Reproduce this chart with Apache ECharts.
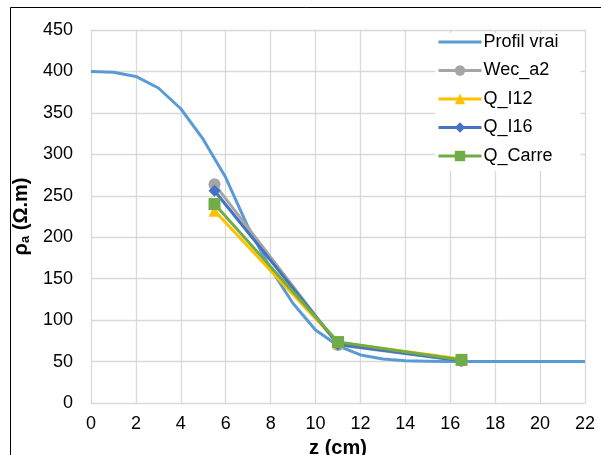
<!DOCTYPE html>
<html><head><meta charset="utf-8">
<script src="https://cdn.jsdelivr.net/npm/echarts@6/dist/echarts.min.js"></script>
<style>html,body{margin:0;padding:0;background:#fff}#c{width:601px;height:455px}</style>
</head><body><div id="c"></div>
<script>
const xTicks = [0,2,4,6,8,10,12,14,16,18,20,22];
const yTicks = [0,50,100,150,200,250,300,350,400,450];
const profilZ = [0,1,2,3,4,5,6,7,8,9,10,11,12,13,14,15,16,17,18,19,20,21,22];
const profilVrai = [400,399,394,380,355,318,272,212,162,120,88,69,58,53,51,50.5,50,50,50,50,50,50,50];
const estZ = [5.5,11,16.5];
const wecA2 = [264,70,51];
const qI12 = [232,73,53];
const qI16 = [256,71,51];
const qCarre = [240,73.5,52];

const chart = echarts.init(document.getElementById('c'));
const font = 'Liberation Sans, Arial, sans-serif';
function pairs(xs, ys){ return xs.map((x,i)=>[x,ys[i]]); }
const mk = (name, color, data, symbol, size) => ({
  name, type:'line', data, symbol, symbolSize:size, showSymbol:true,
  lineStyle:{color, width:3}, itemStyle:{color, borderWidth:0}, z:3, animation:false
});
chart.setOption({
  animation:false,
  backgroundColor:'#fff',
  grid:{left:91, right:16, top:30, bottom:52, containLabel:false, outerBoundsMode:'none'},
  graphic:[{type:'rect', shape:{x:10.5,y:7.5,width:600,height:460}, style:{fill:'none', stroke:'#000', lineWidth:1}, z:-1}],
  legend:{
    orient:'vertical', left:435, top:33, itemWidth:43, itemHeight:13, itemGap:10.5,
    backgroundColor:'#fff', padding:[0,22,6,2],
    lineStyle:{width:3},
    textStyle:{fontFamily:font, fontSize:18, lineHeight:18, color:'#000', padding:[0,0,0,-3]},
    data:[{name:'Profil vrai', itemStyle:{opacity:0}},'Wec_a2','Q_I12','Q_I16','Q_Carre']
  },
  xAxis:{
    type:'value', min:0, max:22, interval:2,
    name:'z (cm)', nameLocation:'middle', nameGap:35,
    nameTextStyle:{fontFamily:font, fontSize:20, fontWeight:'bold', color:'#000'},
    axisLine:{show:true, lineStyle:{color:'#d9d9d9'}}, axisTick:{show:false},
    axisLabel:{fontFamily:font, fontSize:18, color:'#000', margin:12},
    splitLine:{show:true, lineStyle:{color:'#d9d9d9', width:1.3}}
  },
  yAxis:{
    type:'value', min:0, max:450, interval:50,
    name:'{b|ρ}{s|a}{b| (Ω.m)}', nameLocation:'middle', nameGap:55, nameRotate:90,
    nameTextStyle:{rich:{
      b:{fontFamily:font, fontSize:20, fontWeight:'bold', color:'#000'},
      s:{fontFamily:font, fontSize:13, fontWeight:'bold', color:'#000', verticalAlign:'bottom', padding:[9,0,0,0]}
    }},
    axisLine:{show:true, lineStyle:{color:'#d9d9d9'}}, axisTick:{show:false},
    axisLabel:{fontFamily:font, fontSize:18, color:'#000', margin:18},
    splitLine:{show:true, lineStyle:{color:'#d9d9d9', width:1.3}}
  },
  series:[
    {name:'Profil vrai', type:'line', data:pairs(profilZ, profilVrai), smooth:false, showSymbol:false, symbol:'none',
     lineStyle:{color:'#5B9BD5', width:3}, itemStyle:{color:'#5B9BD5'}},
    mk('Wec_a2','#A5A5A5', pairs(estZ, wecA2),'circle',12),
    mk('Q_I12','#FFC000', pairs(estZ, qI12),'triangle',12),
    mk('Q_I16','#4472C4', pairs(estZ, qI16),'diamond',12),
    mk('Q_Carre','#70AD47', pairs(estZ, qCarre),'rect',12)
  ]
});
</script></body></html>
